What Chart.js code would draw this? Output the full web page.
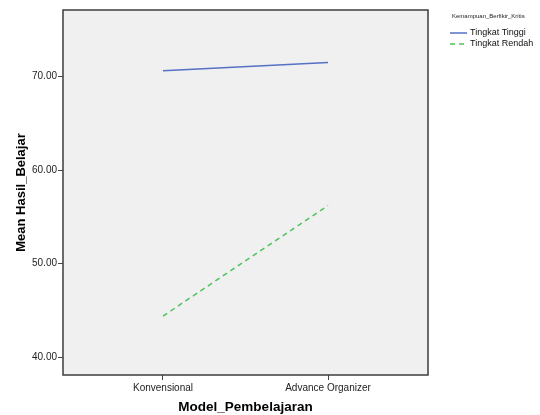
<!DOCTYPE html>
<html lang="en">
<head>
<meta charset="UTF-8">
<title>Mean Hasil_Belajar</title>
<script src="https://cdn.jsdelivr.net/npm/chart.js"></script>
<style>
  body { margin: 0; background: #fff; }
  #wrap { width: 540px; height: 415px; }
</style>
</head>
<body>
<div id="wrap"><canvas id="meansChart" width="540" height="415"></canvas></div>
<script>
  // x axis categories
  const models = ['Konvensional', 'Advance Organizer'];
  // estimated means per group
  const tinggiMeans = [70.6, 71.5];
  const rendahMeans = [44.4, 56.2];
  const groupNames = ['Tingkat Tinggi', 'Tingkat Rendah'];
  const legendTitle = 'Kemampuan_Berfikir_Kritis';
  const yTicks = [40, 50, 60, 70];

  const FONT = '"Liberation Sans", Arial, sans-serif';

  // grey plot background + box around it
  const plotFrame = {
    id: 'plotFrame',
    beforeDraw(chart) {
      const { ctx, chartArea: a } = chart;
      ctx.save();
      ctx.fillStyle = '#f0f0f0';
      ctx.fillRect(a.left, a.top, a.right - a.left, a.bottom - a.top);
      ctx.restore();
    },
    afterDatasetsDraw(chart) {
      const { ctx, chartArea: a } = chart;
      ctx.save();
      ctx.strokeStyle = '#3c3c3c';
      ctx.lineWidth = 1.5;
      ctx.strokeRect(a.left, a.top, a.right - a.left, a.bottom - a.top);
      ctx.restore();
    }
  };

  // legend on the right, SPSS style
  const sideLegend = {
    id: 'sideLegend',
    afterDraw(chart) {
      const ctx = chart.ctx;
      ctx.save();
      ctx.textBaseline = 'middle';
      ctx.textAlign = 'left';
      ctx.fillStyle = '#222';
      ctx.font = '6px ' + FONT;
      ctx.fillText(legendTitle, 452, 16);
      chart.data.datasets.forEach((ds, i) => {
        const y = 33 + i * 11;
        ctx.strokeStyle = ds.borderColor;
        ctx.lineWidth = 1.5;
        ctx.setLineDash(ds.borderDash || []);
        ctx.beginPath();
        ctx.moveTo(450, y);
        ctx.lineTo(467, y);
        ctx.stroke();
        ctx.setLineDash([]);
        ctx.fillStyle = '#111';
        ctx.font = '9px ' + FONT;
        ctx.fillText(ds.label, 470, y);
      });
      ctx.restore();
    }
  };

  new Chart(document.getElementById('meansChart'), {
    type: 'line',
    data: {
      datasets: [{
        label: groupNames[0],
        data: tinggiMeans.map((v, i) => ({ x: i, y: v })),
        borderColor: '#5670c4',
        borderWidth: 1.5,
        pointRadius: 0,
        fill: false
      }, {
        label: groupNames[1],
        data: rendahMeans.map((v, i) => ({ x: i, y: v })),
        borderColor: '#4cc35c',
        borderWidth: 1.5,
        borderDash: [5, 4],
        pointRadius: 0,
        fill: false
      }]
    },
    options: {
      responsive: false,
      animation: false,
      layout: { padding: { left: 14, top: 10, right: 112, bottom: 0 } },
      plugins: {
        legend: { display: false },
        tooltip: { enabled: false }
      },
      scales: {
        x: {
          type: 'linear',
          min: -0.606,
          max: 1.606,
          afterBuildTicks: s => { s.ticks = models.map((m, i) => ({ value: i })); },
          afterFit: s => { s.height = 40; },
          grid: { drawOnChartArea: false, drawTicks: true, tickLength: 5, color: '#444' },
          border: { display: false },
          ticks: {
            padding: 2,
            maxRotation: 0,
            color: '#222',
            font: { family: FONT, size: 10 },
            callback: v => models[v]
          },
          title: {
            display: true,
            text: 'Model_Pembelajaran',
            color: '#000',
            padding: 0,
            font: { family: FONT, size: 13.5, weight: 'bold' }
          }
        },
        y: {
          min: 38.1,
          max: 77.1,
          afterBuildTicks: s => { s.ticks = yTicks.map(v => ({ value: v })); },
          afterFit: s => { s.width = 49; },
          grid: { drawOnChartArea: false, drawTicks: true, tickLength: 5, color: '#444' },
          border: { display: false },
          ticks: {
            padding: 1,
            color: '#222',
            font: { family: FONT, size: 10 },
            callback: v => v.toFixed(2)
          },
          title: {
            display: true,
            text: 'Mean Hasil_Belajar',
            color: '#000',
            padding: 0,
            font: { family: FONT, size: 13, weight: 'bold' }
          }
        }
      }
    },
    plugins: [plotFrame, sideLegend]
  });
</script>
</body>
</html>
